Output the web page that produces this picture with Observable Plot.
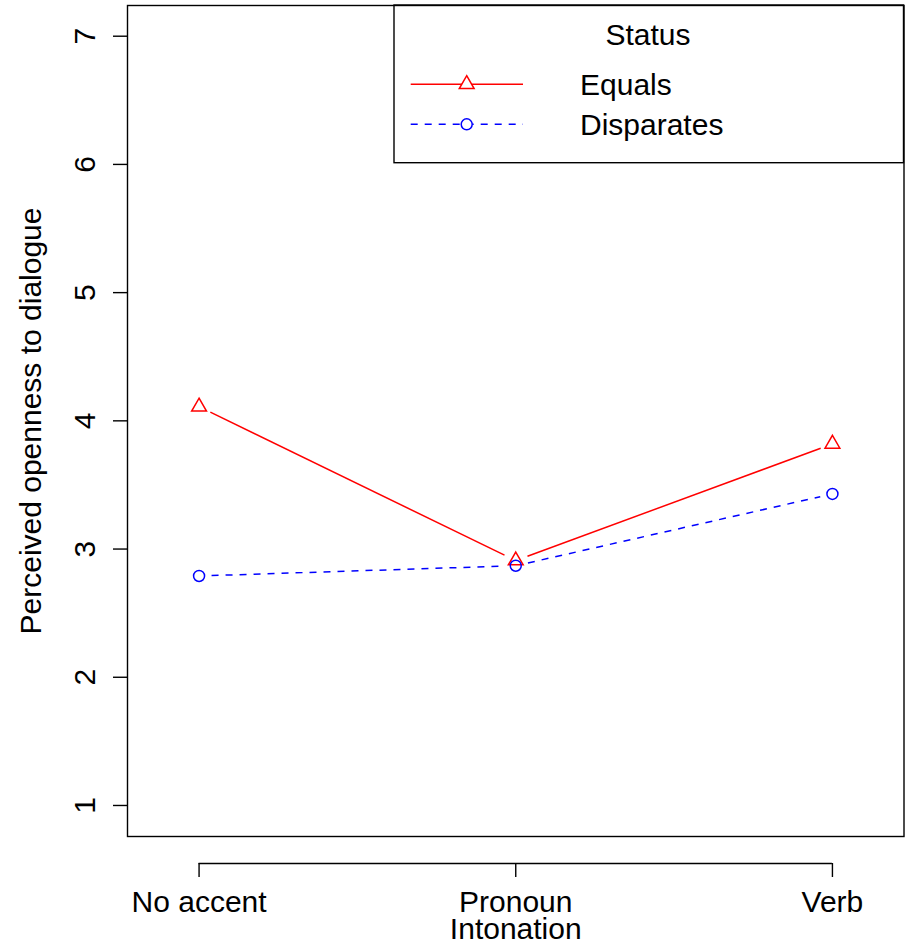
<!DOCTYPE html>
<html><head><meta charset="utf-8">
<script src="https://cdn.jsdelivr.net/npm/d3@7"></script>
<script src="https://cdn.jsdelivr.net/npm/@observablehq/plot@0.6"></script>
<style>
html,body{margin:0;padding:0;background:#fff;}
#chart svg{display:block;}
</style>
</head><body><div id="chart"></div>
<script>
// ---- data ----
const categories = ["No accent", "Pronoun", "Verb"];
const seriesNames = ["Equals", "Disparates"];
const equals = [4.11, 2.91, 3.82];
const disparates = [2.79, 2.87, 3.43];
const yTicks = [1, 2, 3, 4, 5, 6, 7];
const xLabel = "Intonation";
const yLabel = "Perceived openness to dialogue";
const legendTitle = "Status";

// ---- styles ----
const colors = ["#ff0000", "#0000ff"];
const symbols = ["triangle", "circle"];
const dashes = [null, "7 7"];
const font = "'Liberation Sans', Arial, Helvetica, sans-serif";
const fs = 30;

const seriesValues = [equals, disparates];
const pointsOf = s => seriesValues[s].map((v, i) => ({series: seriesNames[s], x: i + 1, y: v}));
const segmentsOf = s => seriesValues[s].slice(1).map((v, i) => ({
  series: seriesNames[s], x1: i + 1, y1: seriesValues[s][i], x2: i + 2, y2: v
}));

const yDomain = [0.758, 7.2395];

const seriesMarks = seriesNames.flatMap((name, s) => [
  Plot.arrow(segmentsOf(s), {
    x1: "x1", y1: "y1", x2: "x2", y2: "y2",
    stroke: colors[s], strokeWidth: 1.5, strokeDasharray: dashes[s],
    strokeLinecap: "butt", headLength: 0, inset: 12.5
  }),
  Plot.dot(pointsOf(s), {
    x: "x", y: "y", symbol: symbols[s], r: 5.5,
    stroke: colors[s], strokeWidth: 1.5, fill: "none"
  })
]);

const plot = Plot.plot({
  width: 908,
  height: 946,
  marginLeft: 127,
  marginRight: 4.5,
  marginTop: 5,
  marginBottom: 110,
  style: {fontFamily: font, fontSize: fs + "px", color: "#000", background: "#fff"},
  x: {type: "linear", domain: [0.774, 3.226]},
  y: {domain: yDomain},
  marks: [
    Plot.frame({stroke: "#000", strokeWidth: 1.4}),
    Plot.axisY({
      ticks: yTicks, tickFormat: d => String(d), tickSize: 14, tickPadding: 19,
      tickRotate: -90, fontSize: fs, label: null, strokeWidth: 1.4
    }),
    Plot.ruleY([yDomain[0]], {x1: 1, x2: categories.length, dy: 27, stroke: "#000", strokeWidth: 1.4}),
    Plot.axisX({
      ticks: categories.map((c, i) => i + 1), tickFormat: d => categories[d - 1],
      tickSize: 14, tickPadding: 13.4, dy: 27, fontSize: fs, label: null, strokeWidth: 1.4
    }),
    Plot.text([yLabel], {
      text: d => d, frameAnchor: "left", rotate: -90, dx: -87,
      lineAnchor: "bottom", textAnchor: "middle", fontSize: fs
    }),
    Plot.text([xLabel], {
      text: d => d, frameAnchor: "bottom", dy: 102.5,
      lineAnchor: "bottom", textAnchor: "middle", fontSize: fs
    }),
    ...seriesMarks
  ]
});

document.getElementById("chart").appendChild(plot);

// ---- legend (inside top-right corner, as in the original) ----
const svg = d3.select(plot.tagName.toLowerCase() === "svg" ? plot : plot.querySelector("svg"));
const lg = svg.append("g").attr("font-family", font).attr("font-size", fs).attr("fill", "#000");
lg.append("rect")
  .attr("x", 394).attr("y", 5).attr("width", 509.5).attr("height", 157.7)
  .attr("fill", "none").attr("stroke", "#000").attr("stroke-width", 1.4);
lg.append("text").attr("x", 648).attr("y", 45).attr("text-anchor", "middle").text(legendTitle);
seriesNames.forEach((name, i) => {
  const cy = 84.3 + i * 40;
  lg.append("line")
    .attr("x1", 410.7).attr("x2", 523).attr("y1", cy).attr("y2", cy)
    .attr("stroke", colors[i]).attr("stroke-width", 1.5)
    .attr("stroke-dasharray", dashes[i]);
  const symType = symbols[i] === "triangle" ? d3.symbolTriangle : d3.symbolCircle;
  lg.append("path")
    .attr("d", d3.symbol(symType, Math.PI * 5.5 * 5.5)())
    .attr("transform", `translate(466.7,${cy})`)
    .attr("fill", "#fff").attr("stroke", colors[i]).attr("stroke-width", 1.5);
  lg.append("text").attr("x", 580).attr("y", cy + 10.7).attr("text-anchor", "start").text(name);
});
</script>
</body></html>
